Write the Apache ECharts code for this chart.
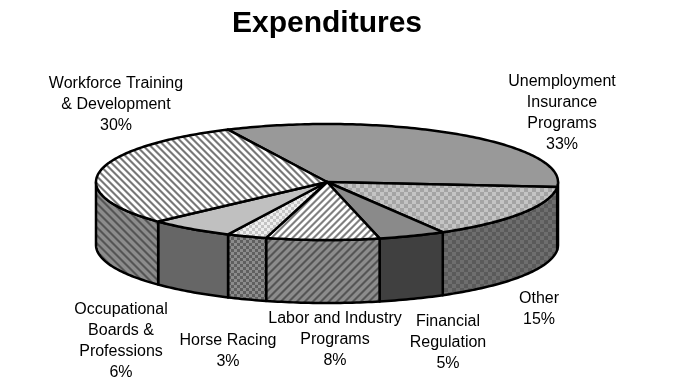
<!DOCTYPE html>
<html><head><meta charset="utf-8">
<style>html,body{margin:0;padding:0;background:#fff}#c{width:687px;height:377px}</style>
<script src="https://cdn.jsdelivr.net/npm/echarts@6/dist/echarts.min.js"></script>
</head><body><div id="c"></div>
<script>
// Data
const titleText = 'Expenditures';
const categories = ['Unemployment\nInsurance\nPrograms','Other','Financial\nRegulation','Labor and Industry\nPrograms','Horse Racing','Occupational\nBoards &\nProfessions','Workforce Training\n& Development'];
const shares = [33.4, 15.3, 4.7, 7.9, 2.8, 6.0, 29.9];

// Layout and style (not data)
const FONT = '"Liberation Sans", Arial, Helvetica, sans-serif';
const CX = 327, CY = 182, RX = 231, RY = 58, DEPTH = 63, START_DEG = 244.6;
const labelPos = [[562,71],[539,288],[448,311],[335,308],[228,330],[121,299],[116,73]];

function tile(size, painter){
  const c = document.createElement('canvas'); c.width = c.height = size;
  const g = c.getContext('2d');
  for (let y=0;y<size;y++) for (let x=0;x<size;x++){ g.fillStyle = painter(x,y); g.fillRect(x,y,1,1); }
  return {image:c, repeat:'repeat'};
}
const mix = (a,b)=>{ const h=s=>parseInt(s.slice(1,3),16); const m=Math.round((h(a)+h(b))/2); return `rgb(${m},${m},${m})`; };
const band = (t,a,b,p)=>{ const w=Math.floor(p/2); return t<w ? a : (t===w || t===p-1) ? mix(a,b) : b; };
const stripeDown = (a,b,p)=>tile(p,(x,y)=>band((x-y+p*4)%p,a,b,p));
const stripeUp   = (a,b,p)=>tile(p,(x,y)=>band((x+y)%p,a,b,p));
const checker = (a,b,n)=>tile(n*2,(x,y)=>((Math.floor(x/n)+Math.floor(y/n))%2) ? a : b);

const topFill = ['#999999', checker('#c4c4c4','#a4a4a4',4), '#8a8a8a', stripeUp('#ffffff','#808080',7), checker('#eeeeee','#c4c4c4',3), '#c0c0c0', stripeDown('#ffffff','#787878',7)];
const sideFill = ['#4d4d4d', checker('#5a5a5a','#6e6e6e',4), '#404040', stripeUp('#8c8c8c','#555555',8), checker('#8c8c8c','#5f5f5f',3), '#666666', stripeDown('#8c8c8c','#555555',8)];

const total = shares.reduce((a,b)=>a+b,0);
const bounds = [START_DEG];
shares.forEach(v=>bounds.push(bounds[bounds.length-1]+v/total*360));
const pt = (deg,dy)=>[CX+RX*Math.cos(deg*Math.PI/180), CY+RY*Math.sin(deg*Math.PI/180)+(dy||0)];
function arc(a,b,dy){ const out=[]; const n=Math.max(2,Math.ceil(Math.abs(b-a))); for(let i=0;i<=n;i++) out.push(pt(a+(b-a)*i/n,dy)); return out; }

function renderTop(params, api){
  const i = api.value(0), a=bounds[i], b=bounds[i+1];
  return {type:'polygon', shape:{points:[[CX,CY]].concat(arc(a,b))},
    style:{fill:topFill[i], stroke:'#000', lineWidth:2.5, lineJoin:'round'}};
}
function renderSide(params, api){
  const i = api.value(0);
  const pieces=[];
  // only the front half (0 to 180 degrees, and 360 to 540) is visible
  [[0,180],[360,540]].forEach(r=>{
    const a=Math.max(bounds[i],r[0]), b=Math.min(bounds[i+1],r[1]);
    if (b>a) pieces.push({type:'polygon', shape:{points:arc(a,b).concat(arc(b,a,DEPTH))},
      style:{fill:sideFill[i], stroke:'#000', lineWidth:2.5, lineJoin:'round'}});
  });
  return {type:'group', children:pieces};
}
const idx = shares.map((v,i)=>[i,v]);
const chart = echarts.init(document.getElementById('c'),null,{renderer:'canvas'});
chart.setOption({
  animation:false, backgroundColor:'#fff',
  title:{text:titleText, left:322, top:4, textAlign:'center', textStyle:{fontFamily:FONT,fontSize:30,fontWeight:'bold',color:'#000'}},
  series:[
    {type:'custom', coordinateSystem:'none', renderItem:renderSide, data:idx, silent:true, z:2},
    {type:'custom', coordinateSystem:'none', renderItem:renderTop, data:idx, silent:true, z:3}
  ],
  graphic:categories.map((c,i)=>({type:'text', x:labelPos[i][0], y:labelPos[i][1], z:5,
    style:{text:c+'\n'+Math.round(shares[i])+'%', align:'center', verticalAlign:'top', fill:'#000', font:'16px '+FONT, lineHeight:21}}))
});
</script></body></html>
